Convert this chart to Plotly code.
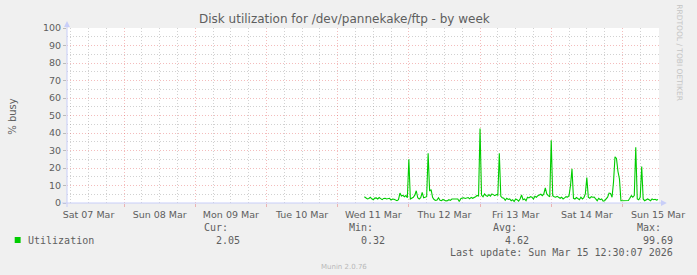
import plotly.graph_objects as go
import pandas as pd

# ---------------- data ----------------
series_name = "Utilization"
start_time = "2026-03-11 09:00"   # first sample
step = "30min"                    # sample interval
busy = [
    3.6, 3.0, 2.3, 2.6, 3.3, 2.4, 1.9, 2.8, 2.9, 2.3,
    3.1, 2.5, 1.9, 2.6, 2.7, 2.3, 2.5, 2.7, 1.7, 2.3,
    2.1, 1.5, 1.3, 1.9, 5.7, 4.0, 4.4, 3.6, 4.3, 3.0,
    25.0, 2.3, 2.8, 3.3, 4.5, 7.0, 3.0, 2.3, 3.0, 6.0,
    3.0, 3.2, 3.6, 28.4, 6.8, 7.6, 3.2, 2.0, 1.5, 1.7,
    3.0, 1.6, 1.3, 2.0, 1.4, 1.2, 1.3, 1.9, 1.5, 2.3,
    2.3, 2.3, 2.3, 2.3, 0.8, 2.5, 2.8, 3.0, 2.6, 2.9,
    3.1, 2.4, 3.2, 2.7, 3.0, 3.6, 4.3, 4.0, 42.5, 4.5,
    3.5, 5.2, 4.3, 3.8, 4.8, 3.9, 5.2, 4.6, 4.2, 4.8,
    4.5, 28.4, 3.8, 3.0, 2.7, 1.5, 2.7, 2.0, 2.3, 1.3,
    1.9, 0.8, 2.3, 1.9, 1.1, 2.3, 4.6, 1.9, 2.3, 1.3,
    3.3, 2.9, 3.6, 3.3, 2.3, 3.8, 3.3, 4.2, 4.6, 5.0,
    4.2, 5.2, 8.6, 5.2, 4.2, 3.6, 35.8, 4.2, 3.6, 3.3,
    3.8, 3.1, 2.7, 3.3, 2.3, 2.9, 3.6, 3.3, 4.2, 10.0,
    19.5, 2.7, 2.3, 3.1, 2.7, 1.9, 3.3, 2.3, 3.1, 5.2,
    14.6, 3.3, 2.7, 3.6, 3.3, 3.4, 2.3, 1.3, 2.7, 1.9,
    2.3, 1.1, 1.3, 2.3, 3.3, 5.7, 5.5, 3.3, 12.0, 26.4,
    25.5, 18.0, 13.8, 1.3, 1.3, 1.2, 1.5, 1.3, 1.4, 2.7,
    4.2, 3.3, 4.2, 31.8, 2.3, 1.9, 3.3, 20.9, 2.3, 1.3,
    1.7, 2.3, 1.9, 1.3, 2.3, 1.9, 2.1, 1.7, 2.05,
]
times = pd.date_range(start_time, periods=len(busy), freq=step)

x_range = ["2026-03-07 04:45", "2026-03-15 12:20"]
y_range = [0, 100]

title = "Disk utilization for /dev/pannekake/ftp - by week"
y_title = "% busy"
stat_labels = ["Cur:", "Min:", "Avg:", "Max:"]
stat_values = ["2.05", "0.32", "4.62", "99.69"]
last_update = "Last update: Sun Mar 15 12:30:07 2026"
footer = "Munin 2.0.76"
side_text = "RRDTOOL / TOBI OETIKER"

# ---------------- layout geometry ----------------
FW, FH = 697, 275
L, R, T, B = 67, 30, 28, 72
PW = FW - L - R
PH = FH - T - B
Y0 = FH - B  # pixel y of plot bottom


def px(x):
    return (x - L) / PW


def py(y):
    return (Y0 - y) / PH


LINE = "#00CC00"
FONT = "#5e5e5e"
AXIS = "#c8cef8"
MGRID = "rgba(225,80,80,0.38)"
GRID = "rgba(140,140,140,0.40)"
SANS = "DejaVu Sans"
MONO = "DejaVu Sans Mono"

fig = go.Figure()
fig.add_trace(go.Scatter(
    x=times, y=busy, mode="lines",
    line=dict(color=LINE, width=1.1),
    name=series_name, hoverinfo="skip", showlegend=False,
))

fig.update_layout(
    width=FW, height=FH,
    margin=dict(l=L, r=R, t=T, b=B, pad=0),
    paper_bgcolor="#F0F0F0", plot_bgcolor="#FFFFFF",
    showlegend=False,
    font=dict(family=SANS, color=FONT, size=9.5),
)

fig.update_xaxes(
    type="date", range=x_range,
    tick0="2026-03-07 00:00", dtick=86400000,
    ticklabelmode="period", tickformat="%a %d %b",
    showgrid=True, gridcolor=MGRID, griddash="1px,2px", gridwidth=1,
    ticks="outside", ticklen=3, tickcolor=MGRID,
    tickfont=dict(size=9.5, color=FONT),
    minor=dict(dtick=6 * 3600000, showgrid=True, gridcolor=GRID,
               griddash="1px,2px", gridwidth=1, ticks=""),
    showline=False, zeroline=False, fixedrange=True,
)
fig.update_yaxes(
    range=y_range, tick0=0, dtick=10,
    showgrid=True, gridcolor=MGRID, griddash="1px,2px", gridwidth=1,
    ticks="outside", ticklen=3, tickcolor="#bbbbbb",
    tickfont=dict(size=9.5, color=FONT),
    minor=dict(dtick=5, showgrid=True, gridcolor=GRID,
               griddash="1px,2px", gridwidth=1, ticks=""),
    showline=False, zeroline=False, fixedrange=True,
)

shapes = []
# axis lines with arrows
shapes.append(dict(type="line", xref="paper", yref="paper",
                   x0=px(62), x1=px(670), y0=0, y1=0,
                   line=dict(color=AXIS, width=1)))
shapes.append(dict(type="path", xref="paper", yref="paper",
                   path=f"M {px(669)},{py(Y0-3)} L {px(675)},{py(Y0)} L {px(669)},{py(Y0+3)} Z",
                   fillcolor=AXIS, line=dict(color=AXIS, width=0)))
shapes.append(dict(type="line", xref="paper", yref="paper",
                   x0=0, x1=0, y0=py(207), y1=py(25),
                   line=dict(color=AXIS, width=1)))
shapes.append(dict(type="path", xref="paper", yref="paper",
                   path=f"M {px(L-3)},{py(27)} L {px(L)},{py(21)} L {px(L+3)},{py(27)} Z",
                   fillcolor=AXIS, line=dict(color=AXIS, width=0)))
# legend swatch
shapes.append(dict(type="rect", xref="paper", yref="paper",
                   x0=px(14), x1=px(20), y0=py(243), y1=py(237),
                   fillcolor=LINE, line=dict(width=0)))
fig.update_layout(shapes=shapes)

ann = []


def text(s, x, y, xa="center", ya="middle", size=9.5, family=SANS, color=FONT, angle=0):
    ann.append(dict(text=s, x=px(x), y=py(y), xref="paper", yref="paper",
                    xanchor=xa, yanchor=ya, showarrow=False, textangle=angle,
                    borderpad=0, font=dict(size=size, family=family, color=color)))


text(title, 348, 19, size=12)
text(y_title, 11, 116, angle=-90, size=10)
text(side_text, 688, 53, angle=90, size=7.5, color="#c4c4c4")
text(series_name, 26, 240, xa="left", size=10, family=MONO)
label_right = [231, 378, 524, 670]
value_right = [243.5, 390, 536, 682]
for lab, val, lr, vr in zip(stat_labels, stat_values, label_right, value_right):
    text(lab, lr, 227, xa="right", size=10, family=MONO)
    text(val, vr, 240, xa="right", size=10, family=MONO)
text(last_update, 682, 253, xa="right", size=10, family=MONO)
text(footer, 347.5, 267, size=7, color="#b8b8b8")
fig.update_layout(annotations=ann)

fig.write_html("out.html")
